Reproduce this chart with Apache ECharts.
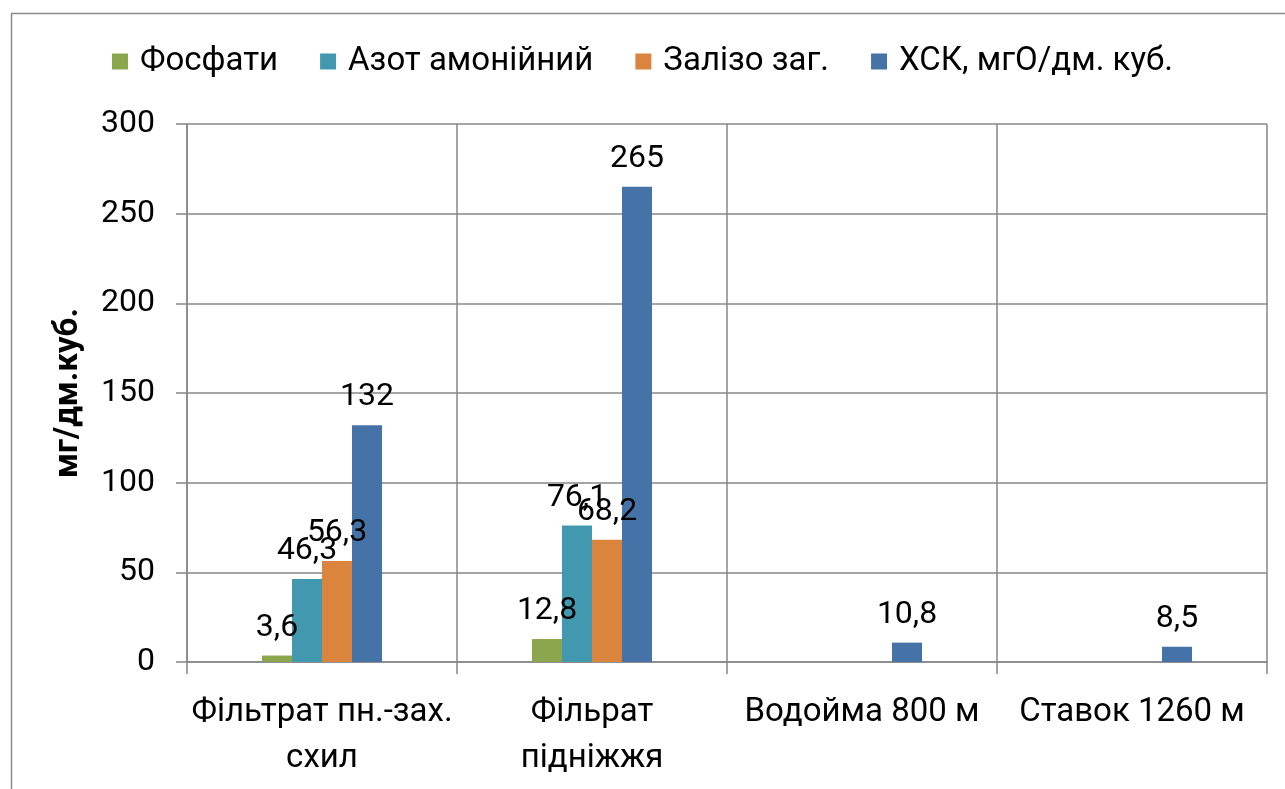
<!DOCTYPE html>
<html>
<head>
<meta charset="utf-8">
<script src="https://cdn.jsdelivr.net/npm/echarts@6/dist/echarts.min.js"></script>
<style>
  html, body { margin: 0; padding: 0; background: #fff; }
  #chart { width: 1285px; height: 789px; }
</style>
</head>
<body>
<div id="chart"></div>
<script>
// categories along the x axis
const categories = ['Фільтрат пн.-зах.\nсхил', 'Фільрат\nпідніжжя', 'Водойма 800 м', 'Ставок 1260 м'];

// series values (null = no bar)
const phosphates = [3.6, 12.8, null, null];
const ammonium = [46.3, 76.1, null, null];
const ironTotal = [56.3, 68.2, null, null];
const cod = [132, 265, 10.8, 8.5];

const seriesNames = ['Фосфати', 'Азот амонійний', 'Залізо заг.', 'ХСК, мгО/дм. куб.'];
const seriesColors = ['#8BA64C', '#4198AF', '#DB843D', '#4572A7'];
const seriesValues = [phosphates, ammonium, ironTotal, cod];

const FONT = 'Roboto, "Noto Sans", sans-serif';
const FS = 32;
const gridColor = '#878787';

const chart = echarts.init(document.getElementById('chart'));

const option = {
  backgroundColor: '#fff',
  textStyle: { fontFamily: FONT },
  graphic: [{
    type: 'rect',
    left: 9, top: 11,
    shape: { width: 1400, height: 900 },
    style: { fill: 'none', stroke: '#8c8c8c', lineWidth: 1.5 },
    silent: true
  }],
  legend: {
    top: 40,
    left: 'center',
    itemWidth: 16,
    itemHeight: 16,
    itemGap: 42,
    icon: 'rect',
    textStyle: { fontFamily: FONT, fontSize: 33, color: '#000', padding: [0, 0, 0, 7] },
    data: seriesNames
  },
  grid: { left: 187, right: 18, top: 124, bottom: 127 },
  xAxis: {
    type: 'category',
    data: categories,
    axisLine: { lineStyle: { color: gridColor, width: 1.5 } },
    axisTick: { show: true, length: 12, lineStyle: { color: gridColor, width: 1.5 } },
    splitLine: { show: true, lineStyle: { color: gridColor, width: 1.5 } },
    axisLabel: {
      fontFamily: FONT, fontSize: 33, color: '#000',
      margin: 28, lineHeight: 46, interval: 0
    }
  },
  yAxis: {
    type: 'value',
    min: 0, max: 300, interval: 50,
    name: 'мг/дм.куб.',
    nameLocation: 'middle',
    nameGap: 102,
    nameTextStyle: { fontFamily: FONT, fontSize: 33, fontWeight: 'bold', color: '#000' },
    axisLine: { show: true, lineStyle: { color: gridColor, width: 1.5 } },
    axisTick: { show: true, length: 11, lineStyle: { color: gridColor, width: 1.5 } },
    splitLine: { show: true, lineStyle: { color: gridColor, width: 1.5 } },
    axisLabel: { fontFamily: FONT, fontSize: FS, color: '#000', margin: 32 }
  },
  series: seriesNames.map((name, i) => ({
    name: name,
    type: 'bar',
    data: seriesValues[i],
    barWidth: 30,
    barGap: '0%',
    itemStyle: { color: seriesColors[i] },
    label: {
      show: true,
      position: 'top',
      distance: 12,
      fontFamily: FONT,
      fontSize: FS,
      color: '#000',
      formatter: p => (p.value == null ? '' : String(p.value).replace('.', ','))
    }
  }))
};

chart.setOption(option);
</script>
</body>
</html>
